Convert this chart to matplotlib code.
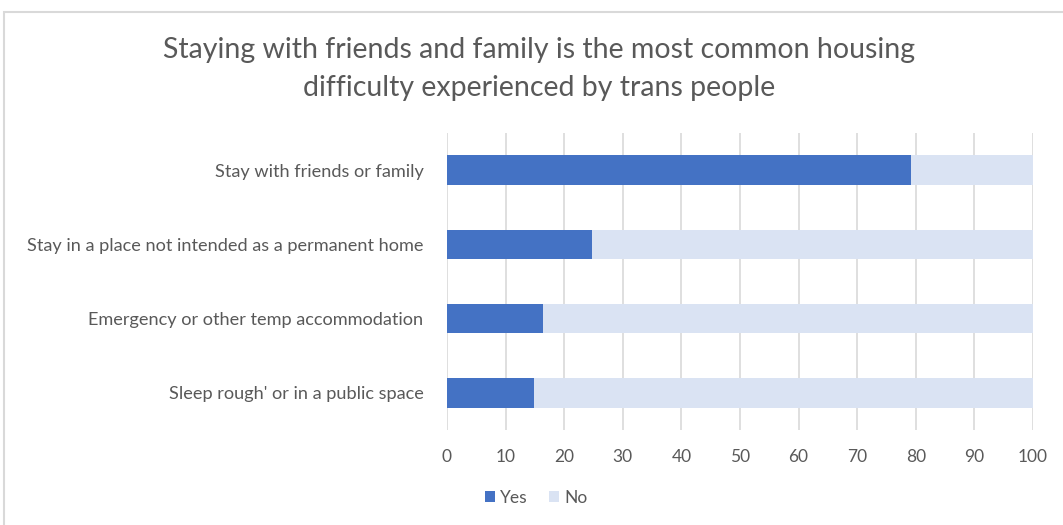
import matplotlib.pyplot as plt
from matplotlib.patches import Rectangle

plt.rcParams['font.family'] = ['Lato', 'DejaVu Sans']

categories = ["Stay with friends or family",
              "Stay in a place not intended as a permanent home",
              "Emergency or other temp accommodation",
              "Sleep rough' or in a public space"]
yes = [79.1, 24.7, 16.4, 14.9]
no = [100 - v for v in yes]

c_yes = "#4472C4"
c_no = "#DAE3F3"
txt = "#595959"

fig = plt.figure(figsize=(10.63, 5.25), dpi=100)
ax = fig.add_axes([447/1063, 1 - 430/525, (1033 - 447)/1063, (430 - 133)/525])

pos = list(range(len(categories)))[::-1]
ax.barh(pos, yes, height=0.4, color=c_yes, label="Yes", zorder=3)
ax.barh(pos, no, left=yes, height=0.4, color=c_no, label="No", zorder=3)

ax.set_xlim(0, 100)
ax.set_ylim(-0.5, 3.5)
ax.set_xticks(range(0, 101, 10))
ax.set_yticks(pos)
ax.set_yticklabels(categories)
ax.tick_params(axis='y', length=0, pad=17, labelsize=13.1, labelcolor=txt)
ax.tick_params(axis='x', length=0, pad=14, labelsize=12.5, labelcolor=txt)
ax.grid(axis='x', color="#D9D9D9", linewidth=1.2, zorder=0)
for s in ax.spines.values():
    s.set_visible(False)

fig.text(539/1063, 1 - 69/525,
         "Staying with friends and family is the most common housing\ndifficulty experienced by trans people",
         ha='center', va='center', fontsize=20.5, color=txt, linespacing=1.55)

fig.legend(loc='center', bbox_to_anchor=(536/1063, 1 - 498/525), ncol=2, frameon=False,
           fontsize=12.5, labelcolor=txt, handlelength=0.6, handleheight=0.6,
           handletextpad=0.3, columnspacing=1.2)

fig.patches.append(Rectangle((4/1063, -0.1), 1.2, 1 - 12/525 + 0.1, transform=fig.transFigure,
                             fill=False, edgecolor="#D9D9D9", linewidth=1.5))

fig.savefig("out.png", dpi=100)
